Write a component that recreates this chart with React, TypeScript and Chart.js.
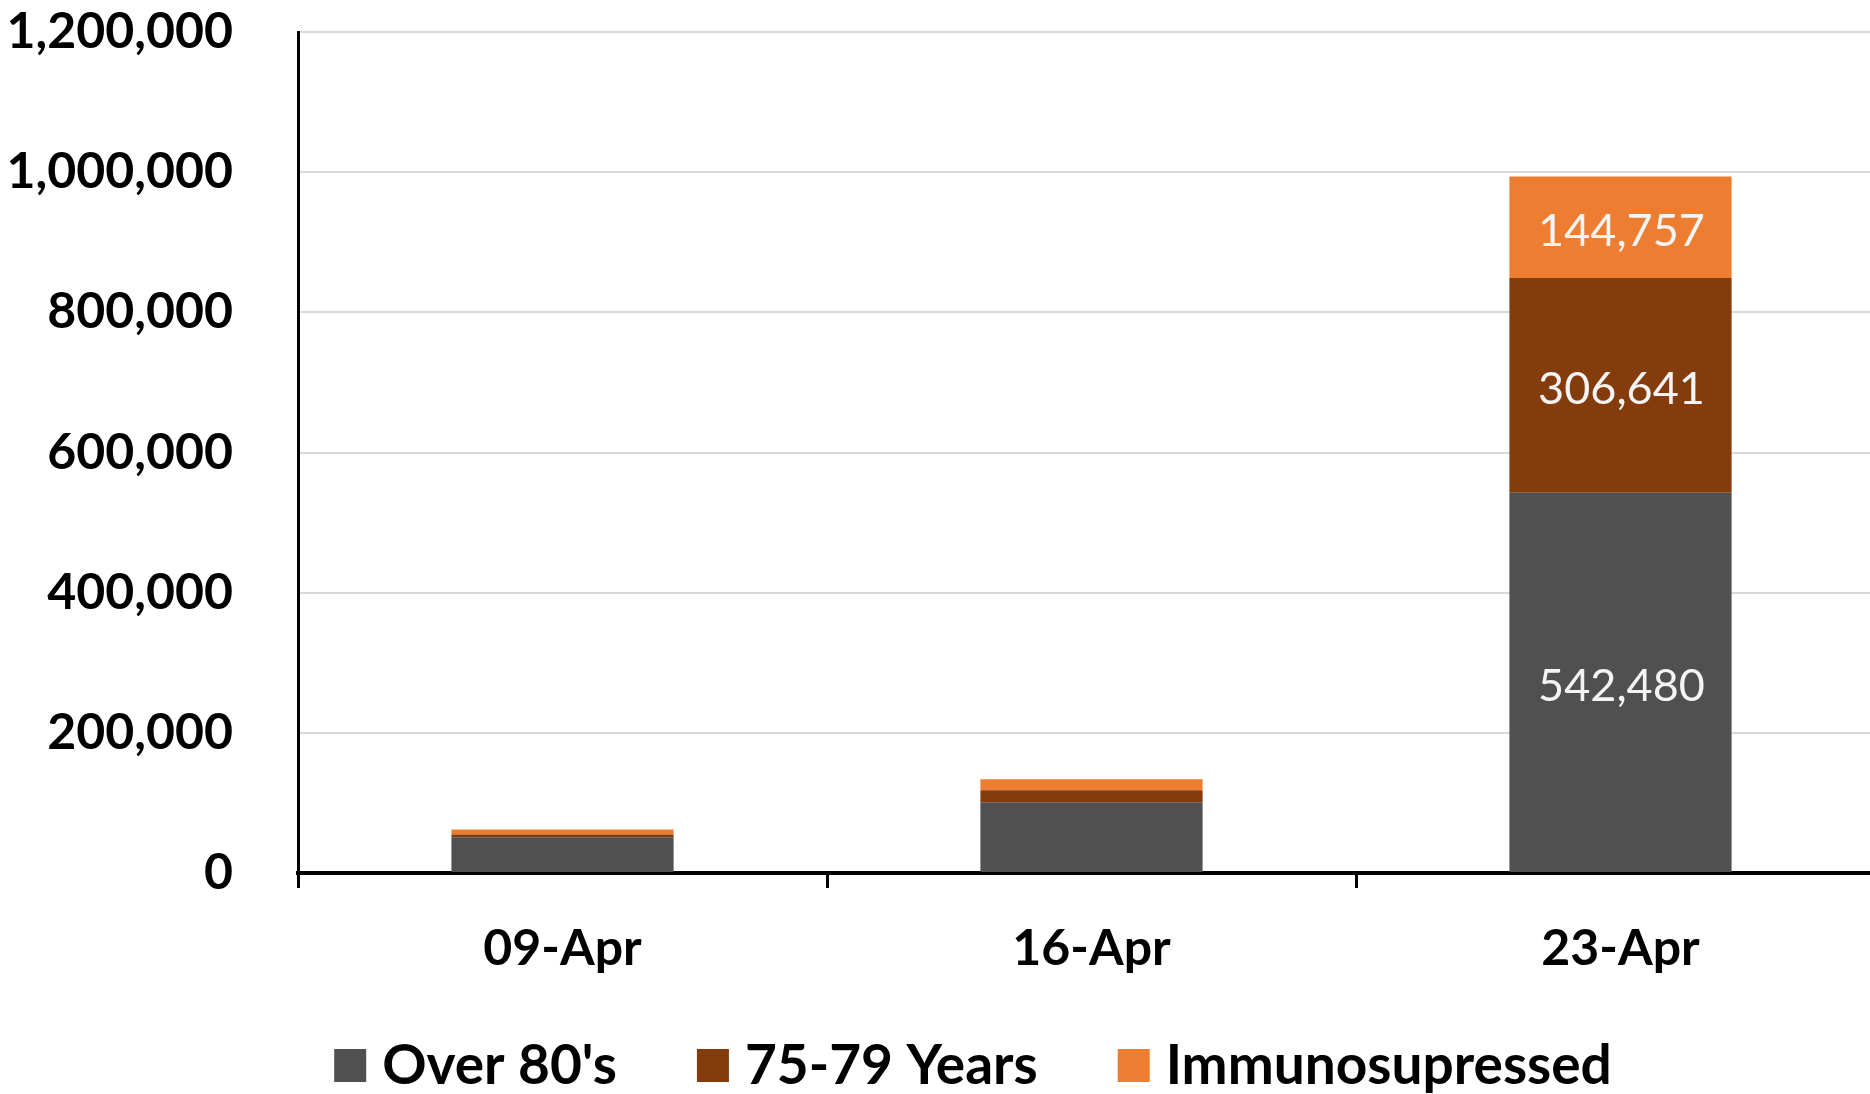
import React, { useEffect, useRef } from "react";
import { Chart, registerables } from "chart.js";

Chart.register(...registerables);

const categories = ["09-Apr", "16-Apr", "23-Apr"];
const over80 = [51000, 101000, 542480];
const age7579 = [4000, 17000, 306641];
const immuno = [7000, 15700, 144757];
const seriesNames = ["Over 80's", "75-79 Years", "Immunosupressed"];
const seriesColors = ["#505050", "#843C0C", "#ED7D31"];
const yMin = 0;
const yMax = 1200000;
const yStep = 200000;

const FONT = "Lato, 'Open Sans', sans-serif";

const fmt = (v: number) => Math.round(v).toLocaleString("en-US");

const dataLabelPlugin = {
  id: "segLabels",
  afterDatasetsDraw(chart: any) {
    const ctx = chart.ctx;
    ctx.save();
    ctx.font = `400 45px ${FONT}`;
    ctx.fillStyle = "#f4f4f4";
    ctx.textAlign = "center";
    ctx.textBaseline = "middle";
    chart.data.datasets.forEach((ds: any, di: number) => {
      const meta = chart.getDatasetMeta(di);
      meta.data.forEach((el: any, i: number) => {
        const h = Math.abs(el.base - el.y);
        if (h < 90) return;
        ctx.fillText(fmt(ds.data[i]), el.x + 1, (el.y + el.base) / 2 + 4);
      });
    });
    ctx.restore();
  },
};

const legendPlugin = {
  id: "bottomLegend",
  afterDraw(chart: any) {
    const ctx = chart.ctx;
    ctx.save();
    ctx.font = `700 55px ${FONT}`;
    ctx.textBaseline = "middle";
    ctx.textAlign = "left";
    const box = 32;
    const gap = 16;
    const spacing = 80;
    const centerX = 973;
    const cy = 1065;
    const widths = chart.data.datasets.map((d: any) => ctx.measureText(d.label).width);
    const total =
      widths.reduce((a: number, w: number) => a + box + gap + w, 0) + spacing * (widths.length - 1);
    let x = centerX - total / 2;
    chart.data.datasets.forEach((d: any, i: number) => {
      ctx.fillStyle = d.backgroundColor;
      ctx.fillRect(x, cy - box / 2, box, box + 1);
      ctx.fillStyle = "#000";
      ctx.fillText(d.label, x + box + gap, cy + 1);
      x += box + gap + widths[i] + spacing;
    });
    ctx.restore();
  },
};

export default function App() {
  const ref = useRef<HTMLCanvasElement>(null);

  useEffect(() => {
    if (!ref.current) return;
    const values = [over80, age7579, immuno];
    const chart = new Chart(ref.current, {
      type: "bar",
      data: {
        labels: categories,
        datasets: seriesNames.map((name, i) => ({
          label: name,
          data: values[i],
          backgroundColor: seriesColors[i],
          borderWidth: 0,
          barPercentage: 0.42,
          categoryPercentage: 1,
        })),
      },
      options: {
        responsive: false,
        animation: false,
        devicePixelRatio: 1,
        layout: { padding: { top: 32, bottom: 121, left: 0, right: 0 } },
        plugins: {
          legend: { display: false },
          tooltip: { enabled: false },
        },
        scales: {
          x: {
            stacked: true,
            afterFit: (s: any) => {
              s.height = 100;
              s.paddingLeft = 0;
              s.paddingRight = 0;
            },
            border: { display: true, color: "#000", width: 4 },
            grid: {
              display: true,
              offset: true,
              drawOnChartArea: false,
              drawTicks: true,
              tickLength: 15,
              color: "#000",
              lineWidth: 3,
            },
            ticks: {
              color: "#000",
              padding: 31,
              font: { family: FONT, size: 50, weight: "bold" },
            },
          },
          y: {
            stacked: true,
            min: yMin,
            max: yMax,
            afterFit: (s: any) => {
              s.width = 298;
              s.paddingTop = 0;
              s.paddingBottom = 0;
            },
            border: { display: true, color: "#000", width: 3 },
            grid: { color: "#d9d9d9", lineWidth: 2, drawTicks: false },
            ticks: {
              stepSize: yStep,
              color: "#000",
              padding: 65,
              font: { family: FONT, size: 50, weight: "bold" },
              callback: (v: any) => fmt(Number(v)),
            },
          },
        },
      },
      plugins: [dataLabelPlugin, legendPlugin],
    });
    return () => chart.destroy();
  }, []);

  return (
    <div
      style={{
        position: "fixed",
        left: 0,
        top: 0,
        width: 1870,
        height: 1094,
        overflow: "hidden",
        background: "#fff",
      }}
    >
      <canvas ref={ref} width={1885} height={1094} style={{ display: "block" }} />
    </div>
  );
}
